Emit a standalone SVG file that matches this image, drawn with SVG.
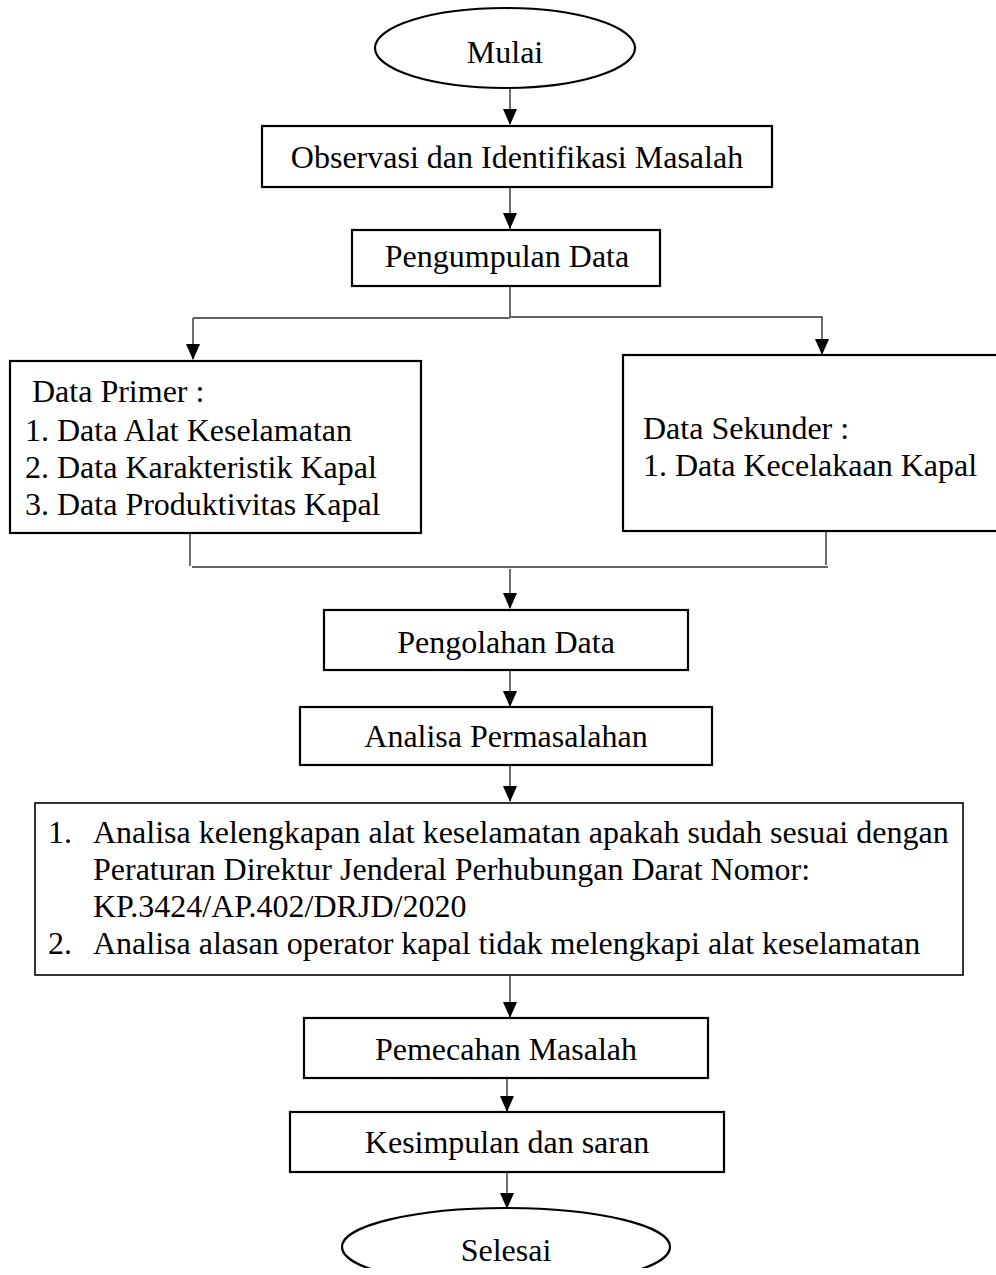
<svg xmlns="http://www.w3.org/2000/svg" width="996" height="1275" viewBox="0 0 996 1275">
<defs>
<style>
.box{fill:#fff;stroke:#000;stroke-width:2.2}
.thin{fill:#fff;stroke:#000;stroke-width:1.6}
.t{font-family:"Liberation Serif","Times New Roman",serif;font-size:32px;fill:#000}
.c{text-anchor:middle}
.ln{fill:none;stroke:#333;stroke-width:1.4}
.ah{fill:#000}
</style>
<clipPath id="cut"><rect x="0" y="0" width="996" height="1268"/></clipPath>
</defs>
<rect width="996" height="1275" fill="#fff"/>

<g id="connectors">
<path class="ln" d="M510,89 L510,124"/>
<path class="ah" d="M503,109 L517,109 L510,125 Z"/>
<path class="ln" d="M510,187 L510,229"/>
<path class="ah" d="M503,213 L517,213 L510,229 Z"/>
<path class="ln" d="M510,286 L510,317 M193,318 L510,318 M510,317 L822,317 L822,354 M193,318 L193,359"/>
<path class="ah" d="M186,344 L200,344 L193,360 Z"/>
<path class="ah" d="M815,339 L829,339 L822,355 Z"/>
<path class="ln" d="M190,534 L190,566 M192,567 L828,567 M826,531 L826,565 M510,569 L510,608"/>
<path class="ah" d="M503,593 L517,593 L510,609 Z"/>
<path class="ln" d="M510,671 L510,706"/>
<path class="ah" d="M503,691 L517,691 L510,707 Z"/>
<path class="ln" d="M510,766 L510,801"/>
<path class="ah" d="M503,786 L517,786 L510,802 Z"/>
<path class="ln" d="M510,976 L510,1017"/>
<path class="ah" d="M503,1002 L517,1002 L510,1018 Z"/>
<path class="ln" d="M507,1079 L507,1111"/>
<path class="ah" d="M500,1096 L514,1096 L507,1112 Z"/>
<path class="ln" d="M507,1173 L507,1208"/>
<path class="ah" d="M500,1193 L514,1193 L507,1209 Z"/>
</g>

<g id="mulai">
<ellipse class="box" cx="505" cy="48" rx="130" ry="40"/>
<text class="t c" x="505" y="63">Mulai</text>
</g>

<g id="observasi">
<rect class="box" x="262" y="126" width="510" height="61"/>
<text class="t c" x="517" y="168">Observasi dan Identifikasi Masalah</text>
</g>

<g id="pengumpulan">
<rect class="box" x="352" y="230" width="308" height="56"/>
<text class="t c" x="507" y="267">Pengumpulan Data</text>
</g>

<g id="primer">
<rect class="box" x="10" y="361" width="411" height="172"/>
<text class="t" x="32" y="402">Data Primer :</text>
<text class="t" x="25" y="441">1. Data Alat Keselamatan</text>
<text class="t" x="25" y="478">2. Data Karakteristik Kapal</text>
<text class="t" x="25" y="515">3. Data Produktivitas Kapal</text>
</g>

<g id="sekunder">
<rect class="box" x="623" y="355" width="390" height="176"/>
<text class="t" x="643" y="439">Data Sekunder :</text>
<text class="t" x="643" y="476">1. Data Kecelakaan Kapal</text>
</g>

<g id="pengolahan">
<rect class="box" x="324" y="610" width="364" height="60"/>
<text class="t c" x="506" y="653">Pengolahan Data</text>
</g>

<g id="analisa">
<rect class="box" x="300" y="707" width="412" height="58"/>
<text class="t c" x="506" y="747">Analisa Permasalahan</text>
</g>

<g id="analisa-detail">
<rect class="thin" x="35" y="803" width="928" height="172"/>
<text class="t" x="48" y="843">1.</text>
<text class="t" x="93" y="843">Analisa kelengkapan alat keselamatan apakah sudah sesuai dengan</text>
<text class="t" x="93" y="880">Peraturan Direktur Jenderal Perhubungan Darat Nomor:</text>
<text class="t" x="93" y="917">KP.3424/AP.402/DRJD/2020</text>
<text class="t" x="48" y="954">2.</text>
<text class="t" x="93" y="954">Analisa alasan operator kapal tidak melengkapi alat keselamatan</text>
</g>

<g id="pemecahan">
<rect class="box" x="304" y="1018" width="404" height="60"/>
<text class="t c" x="506" y="1060">Pemecahan Masalah</text>
</g>

<g id="kesimpulan">
<rect class="box" x="290" y="1112" width="434" height="60"/>
<text class="t c" x="507" y="1153">Kesimpulan dan saran</text>
</g>

<g id="selesai">
<ellipse class="box" cx="506" cy="1247" rx="164" ry="39" clip-path="url(#cut)"/>
<text class="t c" x="506" y="1261">Selesai</text>
</g>
</svg>
